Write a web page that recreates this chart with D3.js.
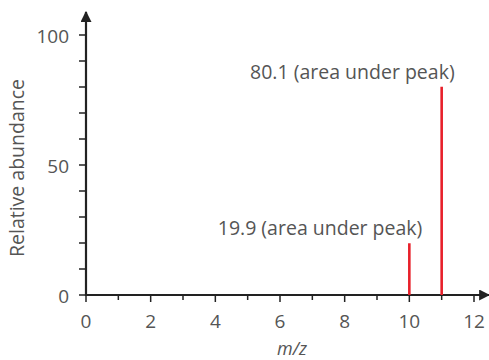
<!DOCTYPE html>
<html>
<head>
<meta charset="utf-8">
<script src="https://cdn.jsdelivr.net/npm/d3@7"></script>
<style>
  body { margin: 0; background: #fff; }
  svg text { font-family: "Open Sans", sans-serif; fill: #555; }
</style>
</head>
<body>
<div id="chart"></div>
<script>
// peak data
var peakMz = [10, 11];
var peakAbundance = [19.9, 80.1];
var peakLabels = ["19.9 (area under peak)", "80.1 (area under peak)"];
var xTicks = [0, 2, 4, 6, 8, 10, 12];
var yTicks = [0, 50, 100];

var W = 489, H = 360;
var margin = {top: 35, right: 15, bottom: 65, left: 86};

var svg = d3.select("#chart").append("svg")
    .attr("width", W)
    .attr("height", H);

var x = d3.scaleLinear().domain([0, 12]).range([margin.left, 474]);
var y = d3.scaleLinear().domain([0, 100]).range([295, margin.top]);

var axisColor = "#222";

// Achsen mit Pfeilen
svg.append("defs").append("marker")
    .attr("id", "arrow")
    .attr("viewBox", "0 0 10 10")
    .attr("refX", 9).attr("refY", 5)
    .attr("markerWidth", 5).attr("markerHeight", 5)
    .attr("orient", "auto")
    .append("path")
    .attr("d", "M0,0 L10,5 L0,10 z")
    .style("fill", axisColor);

// minor ticks
svg.append("g").selectAll("line")
    .data(d3.range(0, 101, 10))
    .enter().append("line")
    .attr("x1", x(0) - 7).attr("x2", x(0))
    .attr("y1", d => y(d)).attr("y2", d => y(d))
    .style("stroke", axisColor).style("stroke-width", 1.5);

svg.append("g").selectAll("line")
    .data(d3.range(0, 13, 1))
    .enter().append("line")
    .attr("x1", d => x(d)).attr("x2", d => x(d))
    .attr("y1", y(0)).attr("y2", d => y(0) + (d % 2 === 0 ? 7 : 5))
    .style("stroke", axisColor).style("stroke-width", 1.5);

// y-Achse
svg.append("line")
    .attr("x1", x(0)).attr("x2", x(0))
    .attr("y1", y(0) + 1).attr("y2", 12)
    .attr("marker-end", "url(#arrow)")
    .style("stroke", axisColor).style("stroke-width", 2.2);

// x-Achse
svg.append("line")
    .attr("x1", x(0) - 1).attr("x2", 489)
    .attr("y1", y(0)).attr("y2", y(0))
    .attr("marker-end", "url(#arrow)")
    .style("stroke", axisColor).style("stroke-width", 2.2);

// Beschriftungen
svg.append("g").selectAll("text")
    .data(yTicks)
    .enter().append("text")
    .text(d => d)
    .attr("x", x(0) - 17)
    .attr("y", d => y(d) + 1)
    .attr("dy", "0.35em")
    .style("text-anchor", "end")
    .style("font-size", "19px");

svg.append("g").selectAll("text")
    .data(xTicks)
    .enter().append("text")
    .text(d => d)
    .attr("x", d => x(d))
    .attr("y", y(0) + 26)
    .attr("dy", "0.35em")
    .style("text-anchor", "middle")
    .style("font-size", "19px");

svg.append("text")
    .text("Relative abundance")
    .attr("transform", "translate(24,168) rotate(-90)")
    .style("text-anchor", "middle")
    .style("font-size", "19.5px");

svg.append("text")
    .text("m/z")
    .attr("x", 292)
    .attr("y", 355)
    .style("text-anchor", "middle")
    .style("font-style", "italic")
    .style("font-size", "18px");

// Peaks
svg.append("g").selectAll("line")
    .data(peakMz)
    .enter().append("line")
    .attr("x1", d => x(d)).attr("x2", d => x(d))
    .attr("y1", y(0)).attr("y2", (d, i) => y(peakAbundance[i]))
    .style("stroke", "#e8202a").style("stroke-width", 2.6);

svg.append("g").selectAll("text")
    .data(peakLabels)
    .enter().append("text")
    .text(d => d)
    .attr("x", (d, i) => x(peakMz[i]) + 13)
    .attr("y", (d, i) => y(peakAbundance[i]) - 8)
    .style("text-anchor", "end")
    .style("font-size", "19.5px");
</script>
</body>
</html>
